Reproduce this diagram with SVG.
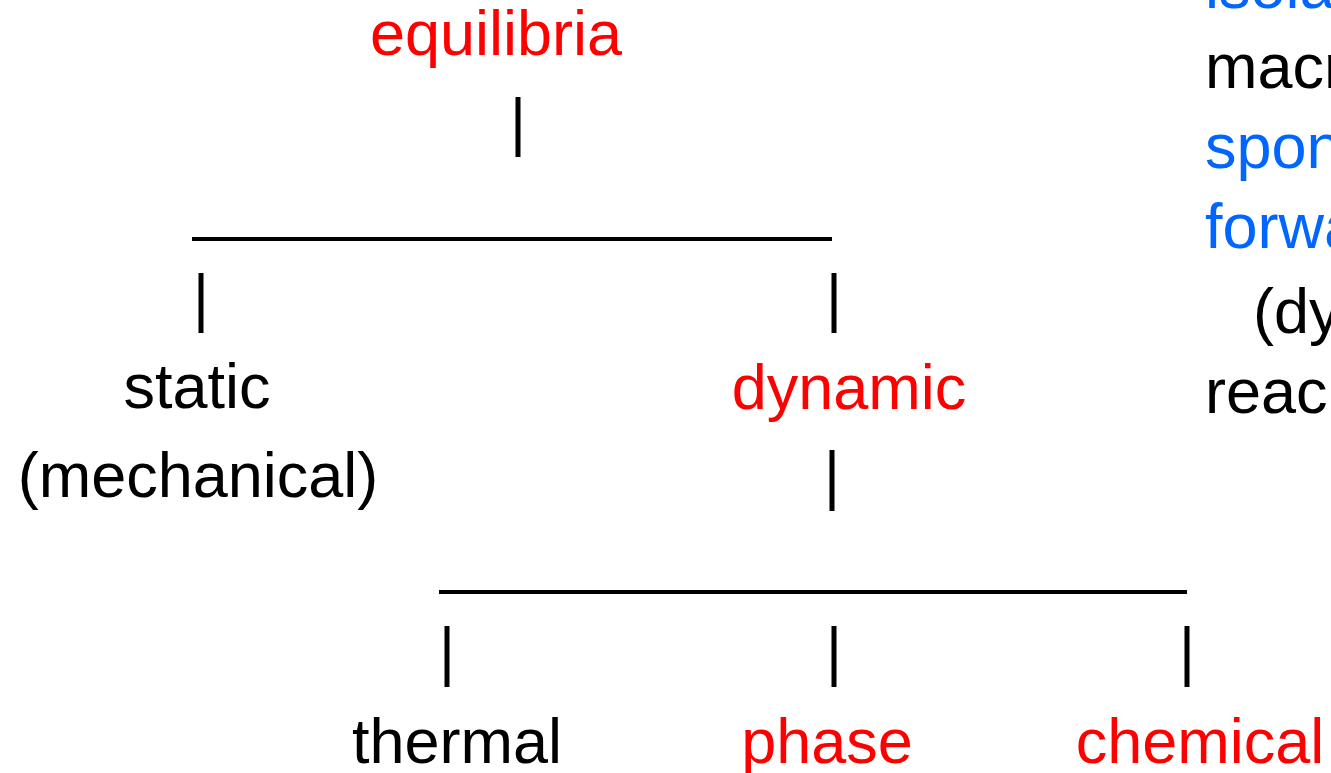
<svg xmlns="http://www.w3.org/2000/svg" width="1331" height="773" viewBox="0 0 1331 773">
<style>
text{font-family:"Liberation Sans",Arial,sans-serif;font-size:63px}
.k{fill:#000}
.r{fill:#ff0000}
.b{fill:#0066ff}
.c{text-anchor:middle}
.ln{stroke:#000;stroke-width:4;fill:none}
.bar{stroke:#000;stroke-width:5;fill:none}
</style>
<rect width="1331" height="773" fill="#fff"/>
<g id="connectors">
<line class="bar" x1="518" y1="97" x2="518" y2="157"/>
<line class="ln" x1="192" y1="239" x2="832" y2="239"/>
<line class="bar" x1="201" y1="273" x2="201" y2="333"/>
<line class="bar" x1="834" y1="273" x2="834" y2="333"/>
<line class="bar" x1="832" y1="450" x2="832" y2="511"/>
<line class="ln" x1="439" y1="592" x2="1187" y2="592"/>
<line class="bar" x1="447" y1="626" x2="447" y2="687"/>
<line class="bar" x1="834" y1="626" x2="834" y2="687"/>
<line class="bar" x1="1187" y1="626" x2="1187" y2="687"/>
</g>
<g id="equilibria"><text class="r c" x="496" y="55">equilibria</text></g>
<g id="static"><text class="k c" x="197" y="408">static</text><text class="k c" x="198" y="497">(mechanical)</text></g>
<g id="dynamic"><text class="r c" x="849" y="409">dynamic</text></g>
<g id="thermal"><text class="k c" x="457" y="763">thermal</text></g>
<g id="phase"><text class="r c" x="827" y="763">phase</text></g>
<g id="chemical"><text class="r c" x="1200" y="763">chemical</text></g>
<g id="notes">
<text class="b" x="1205" y="8">isolated</text>
<text class="k" x="1205" y="88">macroscopic</text>
<text class="b" x="1205" y="168">spontaneous</text>
<text class="b" x="1205" y="248">forward</text>
<text class="k" x="1253" y="333">(dynamic)</text>
<text class="k" x="1205" y="413">reached</text>
</g>
</svg>
